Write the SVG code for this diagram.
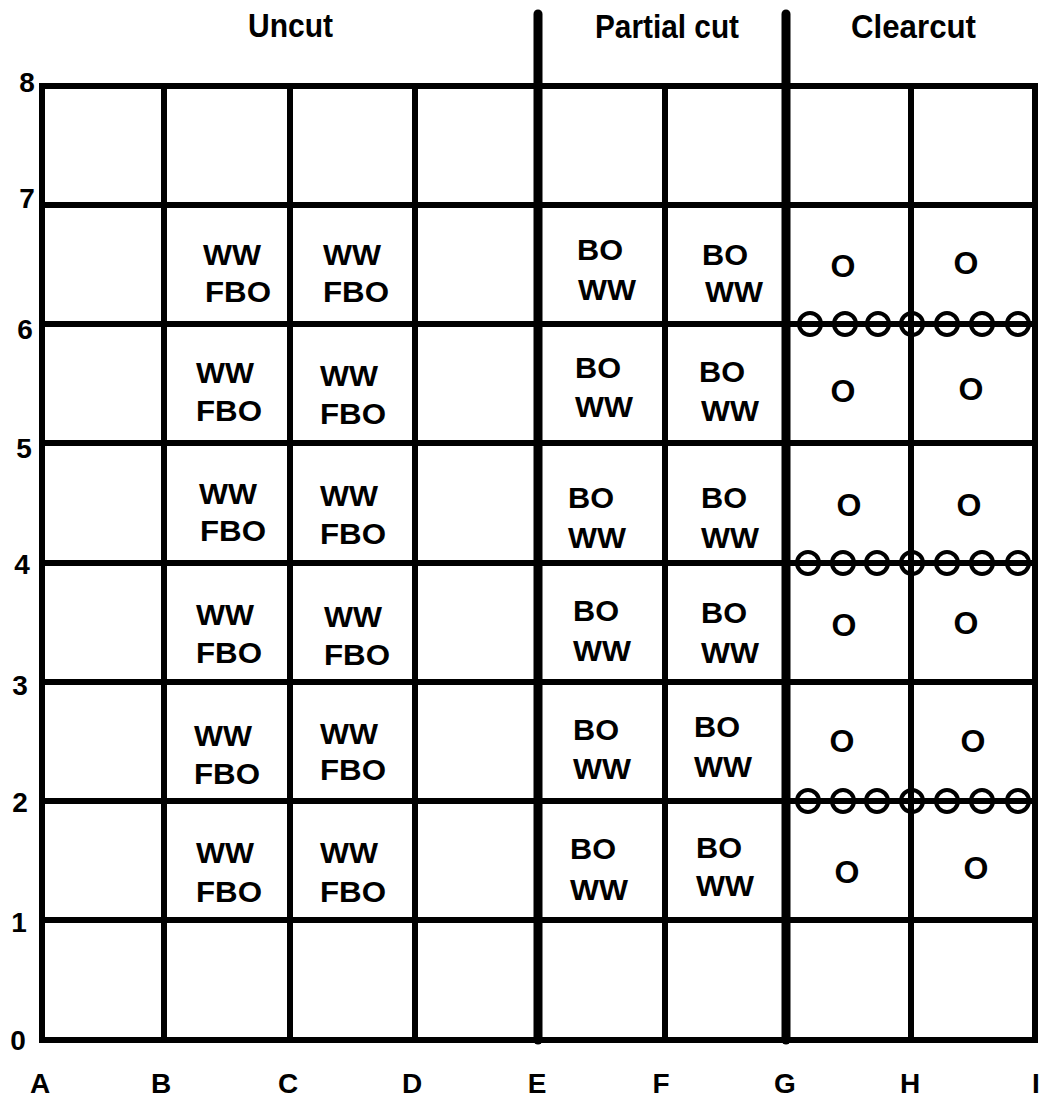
<svg xmlns="http://www.w3.org/2000/svg" width="1043" height="1101" viewBox="0 0 1043 1101">
<style>
  .ln { stroke:#000; stroke-width:6; stroke-linecap:square; fill:none; }
  .thick { stroke:#000; stroke-width:9; stroke-linecap:round; fill:none; }
  .title { font-family:"Liberation Sans", Arial, sans-serif; font-weight:bold; font-size:33px; fill:#000; }
  .ax { font-family:"Liberation Sans", Arial, sans-serif; font-weight:bold; font-size:28px; fill:#000; text-anchor:middle; }
  .t { font-family:"Liberation Sans", Arial, sans-serif; font-weight:bold; font-size:29px; fill:#000; }
  .o { font-family:"Liberation Sans", Arial, sans-serif; font-weight:bold; font-size:32px; fill:#000; text-anchor:middle; }
  .ring { stroke:#000; stroke-width:4; fill:none; }
</style>
<rect x="0" y="0" width="1043" height="1101" fill="#fff"/>

<g id="grid">
  <line class="ln" x1="42" y1="86" x2="1035" y2="86"/>
  <line class="ln" x1="42" y1="205" x2="1035" y2="205"/>
  <line class="ln" x1="42" y1="324" x2="1035" y2="324"/>
  <line class="ln" x1="42" y1="443" x2="1035" y2="443"/>
  <line class="ln" x1="42" y1="563" x2="1035" y2="563"/>
  <line class="ln" x1="42" y1="682" x2="1035" y2="682"/>
  <line class="ln" x1="42" y1="801" x2="1035" y2="801"/>
  <line class="ln" x1="42" y1="920" x2="1035" y2="920"/>
  <line class="ln" x1="42" y1="1040" x2="1035" y2="1040"/>
  <line class="ln" x1="42" y1="86" x2="42" y2="1040"/>
  <line class="ln" x1="164" y1="86" x2="164" y2="1040"/>
  <line class="ln" x1="290" y1="86" x2="290" y2="1040"/>
  <line class="ln" x1="415" y1="86" x2="415" y2="1040"/>
  <line class="ln" x1="665" y1="86" x2="665" y2="1040"/>
  <line class="ln" x1="911" y1="86" x2="911" y2="1040"/>
  <line class="ln" x1="1035" y1="86" x2="1035" y2="1040"/>
  <line class="thick" x1="538" y1="14" x2="538" y2="1040"/>
  <line class="thick" x1="786" y1="14" x2="786" y2="1040"/>
</g>

<g id="fence-rows">
  <g id="fence-6">
    <circle class="ring" cx="810" cy="324" r="11"/><circle class="ring" cx="845" cy="324" r="11"/><circle class="ring" cx="878" cy="324" r="11"/><circle class="ring" cx="912" cy="324" r="11"/><circle class="ring" cx="947" cy="324" r="11"/><circle class="ring" cx="982" cy="324" r="11"/><circle class="ring" cx="1018" cy="324" r="11"/>
  </g>
  <g id="fence-4">
    <circle class="ring" cx="808" cy="563" r="11"/><circle class="ring" cx="843" cy="563" r="11"/><circle class="ring" cx="877" cy="563" r="11"/><circle class="ring" cx="912" cy="563" r="11"/><circle class="ring" cx="947" cy="563" r="11"/><circle class="ring" cx="982" cy="563" r="11"/><circle class="ring" cx="1018" cy="563" r="11"/>
  </g>
  <g id="fence-2">
    <circle class="ring" cx="808" cy="801" r="11"/><circle class="ring" cx="843" cy="801" r="11"/><circle class="ring" cx="877" cy="801" r="11"/><circle class="ring" cx="912" cy="801" r="11"/><circle class="ring" cx="947" cy="801" r="11"/><circle class="ring" cx="982" cy="801" r="11"/><circle class="ring" cx="1018" cy="801" r="11"/>
  </g>
</g>

<g id="titles">
  <text class="title" x="248" y="37" textLength="85" lengthAdjust="spacingAndGlyphs">Uncut</text>
  <text class="title" x="595" y="38" textLength="144" lengthAdjust="spacingAndGlyphs">Partial cut</text>
  <text class="title" x="851" y="38" textLength="125" lengthAdjust="spacingAndGlyphs">Clearcut</text>
</g>

<g id="y-axis">
  <text class="ax" x="27" y="92">8</text>
  <text class="ax" x="27" y="208">7</text>
  <text class="ax" x="25" y="339">6</text>
  <text class="ax" x="24" y="458">5</text>
  <text class="ax" x="22" y="574">4</text>
  <text class="ax" x="20" y="695">3</text>
  <text class="ax" x="20" y="812">2</text>
  <text class="ax" x="19" y="932">1</text>
  <text class="ax" x="18" y="1050">0</text>
</g>

<g id="x-axis">
  <text class="ax" x="40" y="1093">A</text>
  <text class="ax" x="161" y="1093">B</text>
  <text class="ax" x="288" y="1093">C</text>
  <text class="ax" x="412" y="1093">D</text>
  <text class="ax" x="537" y="1093">E</text>
  <text class="ax" x="661" y="1093">F</text>
  <text class="ax" x="785" y="1093">G</text>
  <text class="ax" x="910" y="1093">H</text>
  <text class="ax" x="1036" y="1093">I</text>
</g>

<g id="row-7">
  <g id="cell-B7"><text class="t" x="203" y="265" textLength="58" lengthAdjust="spacingAndGlyphs">WW</text><text class="t" x="205" y="302" textLength="66" lengthAdjust="spacingAndGlyphs">FBO</text></g>
  <g id="cell-C7"><text class="t" x="323" y="265" textLength="58" lengthAdjust="spacingAndGlyphs">WW</text><text class="t" x="323" y="302" textLength="66" lengthAdjust="spacingAndGlyphs">FBO</text></g>
  <g id="cell-E7"><text class="t" x="577" y="260" textLength="46" lengthAdjust="spacingAndGlyphs">BO</text><text class="t" x="578" y="300" textLength="58" lengthAdjust="spacingAndGlyphs">WW</text></g>
  <g id="cell-F7"><text class="t" x="702" y="265" textLength="46" lengthAdjust="spacingAndGlyphs">BO</text><text class="t" x="705" y="302" textLength="58" lengthAdjust="spacingAndGlyphs">WW</text></g>
  <g id="cell-G7"><text class="o" x="843" y="277">O</text></g>
  <g id="cell-H7"><text class="o" x="966" y="274">O</text></g>
</g>

<g id="row-6">
  <g id="cell-B6"><text class="t" x="196" y="383" textLength="58" lengthAdjust="spacingAndGlyphs">WW</text><text class="t" x="196" y="421" textLength="66" lengthAdjust="spacingAndGlyphs">FBO</text></g>
  <g id="cell-C6"><text class="t" x="320" y="386" textLength="58" lengthAdjust="spacingAndGlyphs">WW</text><text class="t" x="320" y="424" textLength="66" lengthAdjust="spacingAndGlyphs">FBO</text></g>
  <g id="cell-E6"><text class="t" x="575" y="378" textLength="46" lengthAdjust="spacingAndGlyphs">BO</text><text class="t" x="575" y="417" textLength="58" lengthAdjust="spacingAndGlyphs">WW</text></g>
  <g id="cell-F6"><text class="t" x="699" y="382" textLength="46" lengthAdjust="spacingAndGlyphs">BO</text><text class="t" x="701" y="421" textLength="58" lengthAdjust="spacingAndGlyphs">WW</text></g>
  <g id="cell-G6"><text class="o" x="843" y="402">O</text></g>
  <g id="cell-H6"><text class="o" x="971" y="400">O</text></g>
</g>

<g id="row-5">
  <g id="cell-B5"><text class="t" x="199" y="504" textLength="58" lengthAdjust="spacingAndGlyphs">WW</text><text class="t" x="200" y="541" textLength="66" lengthAdjust="spacingAndGlyphs">FBO</text></g>
  <g id="cell-C5"><text class="t" x="320" y="506" textLength="58" lengthAdjust="spacingAndGlyphs">WW</text><text class="t" x="320" y="544" textLength="66" lengthAdjust="spacingAndGlyphs">FBO</text></g>
  <g id="cell-E5"><text class="t" x="568" y="508" textLength="46" lengthAdjust="spacingAndGlyphs">BO</text><text class="t" x="568" y="548" textLength="58" lengthAdjust="spacingAndGlyphs">WW</text></g>
  <g id="cell-F5"><text class="t" x="701" y="508" textLength="46" lengthAdjust="spacingAndGlyphs">BO</text><text class="t" x="701" y="548" textLength="58" lengthAdjust="spacingAndGlyphs">WW</text></g>
  <g id="cell-G5"><text class="o" x="849" y="516">O</text></g>
  <g id="cell-H5"><text class="o" x="969" y="516">O</text></g>
</g>

<g id="row-4">
  <g id="cell-B4"><text class="t" x="196" y="625" textLength="58" lengthAdjust="spacingAndGlyphs">WW</text><text class="t" x="196" y="663" textLength="66" lengthAdjust="spacingAndGlyphs">FBO</text></g>
  <g id="cell-C4"><text class="t" x="324" y="627" textLength="58" lengthAdjust="spacingAndGlyphs">WW</text><text class="t" x="324" y="665" textLength="66" lengthAdjust="spacingAndGlyphs">FBO</text></g>
  <g id="cell-E4"><text class="t" x="573" y="621" textLength="46" lengthAdjust="spacingAndGlyphs">BO</text><text class="t" x="573" y="661" textLength="58" lengthAdjust="spacingAndGlyphs">WW</text></g>
  <g id="cell-F4"><text class="t" x="701" y="623" textLength="46" lengthAdjust="spacingAndGlyphs">BO</text><text class="t" x="701" y="663" textLength="58" lengthAdjust="spacingAndGlyphs">WW</text></g>
  <g id="cell-G4"><text class="o" x="844" y="636">O</text></g>
  <g id="cell-H4"><text class="o" x="966" y="634">O</text></g>
</g>

<g id="row-3">
  <g id="cell-B3"><text class="t" x="194" y="746" textLength="58" lengthAdjust="spacingAndGlyphs">WW</text><text class="t" x="194" y="784" textLength="66" lengthAdjust="spacingAndGlyphs">FBO</text></g>
  <g id="cell-C3"><text class="t" x="320" y="744" textLength="58" lengthAdjust="spacingAndGlyphs">WW</text><text class="t" x="320" y="780" textLength="66" lengthAdjust="spacingAndGlyphs">FBO</text></g>
  <g id="cell-E3"><text class="t" x="573" y="740" textLength="46" lengthAdjust="spacingAndGlyphs">BO</text><text class="t" x="573" y="779" textLength="58" lengthAdjust="spacingAndGlyphs">WW</text></g>
  <g id="cell-F3"><text class="t" x="694" y="737" textLength="46" lengthAdjust="spacingAndGlyphs">BO</text><text class="t" x="694" y="777" textLength="58" lengthAdjust="spacingAndGlyphs">WW</text></g>
  <g id="cell-G3"><text class="o" x="842" y="752">O</text></g>
  <g id="cell-H3"><text class="o" x="973" y="752">O</text></g>
</g>

<g id="row-2">
  <g id="cell-B2"><text class="t" x="196" y="863" textLength="58" lengthAdjust="spacingAndGlyphs">WW</text><text class="t" x="196" y="902" textLength="66" lengthAdjust="spacingAndGlyphs">FBO</text></g>
  <g id="cell-C2"><text class="t" x="320" y="863" textLength="58" lengthAdjust="spacingAndGlyphs">WW</text><text class="t" x="320" y="902" textLength="66" lengthAdjust="spacingAndGlyphs">FBO</text></g>
  <g id="cell-E2"><text class="t" x="570" y="859" textLength="46" lengthAdjust="spacingAndGlyphs">BO</text><text class="t" x="570" y="900" textLength="58" lengthAdjust="spacingAndGlyphs">WW</text></g>
  <g id="cell-F2"><text class="t" x="696" y="858" textLength="46" lengthAdjust="spacingAndGlyphs">BO</text><text class="t" x="696" y="896" textLength="58" lengthAdjust="spacingAndGlyphs">WW</text></g>
  <g id="cell-G2"><text class="o" x="847" y="883">O</text></g>
  <g id="cell-H2"><text class="o" x="976" y="879">O</text></g>
</g>
</svg>
